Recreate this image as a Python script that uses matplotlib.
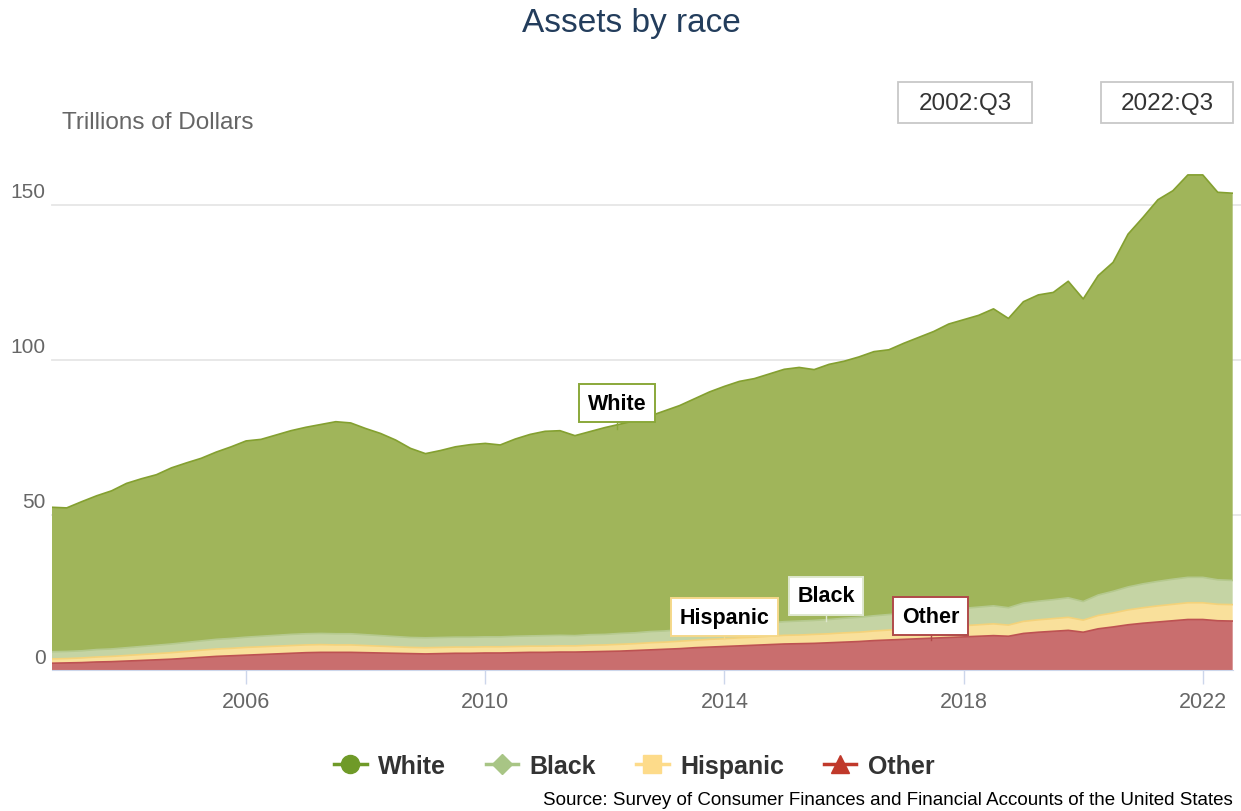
import numpy as np
import pandas as pd
import matplotlib
matplotlib.use('Agg')
import matplotlib.pyplot as plt
from matplotlib.lines import Line2D
from matplotlib.patches import Rectangle

plt.rcParams['font.family'] = ['Liberation Sans', 'DejaVu Sans']

# quarterly points, trillions of dollars
quarters = pd.period_range('2002Q4', '2022Q3', freq='Q')

white = [46.6, 46.3, 48.1, 49.6, 51.0, 53.0, 54.1, 55.0, 56.8, 57.9,
         58.9, 60.4, 61.8, 63.3, 63.5, 64.6, 65.7, 66.6, 67.4, 68.4,
         68.0, 66.5, 65.2, 63.4, 61.0, 59.4, 60.3, 61.4, 62.1, 62.4,
         61.9, 63.6, 65.0, 65.9, 66.0, 64.5, 65.5, 66.7, 67.5, 68.4,
         69.5, 71.0, 72.3, 74.1, 75.9, 77.4, 78.6, 79.2, 80.3, 81.4,
         81.8, 80.9, 82.3, 82.9, 84.0, 85.2, 85.4, 87.1, 88.5, 90.0,
         92.0, 93.1, 94.1, 95.8, 93.3, 97.2, 98.8, 99.1, 102.1, 97.6,
         103.0, 106.1, 113.8, 118.2, 123.1, 125.3, 129.8, 129.8, 125.0, 124.9]

black = [2.3, 2.3, 2.3, 2.4, 2.4, 2.5, 2.6, 2.7, 2.8, 2.9,
         3.0, 3.1, 3.2, 3.3, 3.4, 3.5, 3.6, 3.6, 3.6, 3.6,
         3.6, 3.5, 3.4, 3.3, 3.2, 3.2, 3.2, 3.2, 3.2, 3.2,
         3.2, 3.3, 3.3, 3.4, 3.4, 3.3, 3.4, 3.4, 3.5, 3.5,
         3.6, 3.6, 3.7, 3.8, 3.9, 4.0, 4.1, 4.2, 4.3, 4.4,
         4.5, 4.5, 4.6, 4.7, 4.8, 4.9, 5.0, 5.1, 5.3, 5.4,
         5.5, 5.6, 5.7, 5.8, 5.6, 5.9, 6.0, 6.1, 6.3, 6.0,
         6.6, 7.0, 7.4, 7.7, 7.9, 8.1, 8.2, 8.2, 7.9, 7.8]

hispanic = [1.4, 1.4, 1.5, 1.6, 1.7, 1.8, 1.9, 2.0, 2.1, 2.2,
            2.3, 2.4, 2.4, 2.5, 2.5, 2.5, 2.5, 2.5, 2.5, 2.4,
            2.4, 2.3, 2.2, 2.1, 2.0, 2.0, 2.0, 2.0, 2.0, 2.0,
            2.0, 2.0, 2.0, 2.0, 2.0, 2.0, 2.1, 2.1, 2.2, 2.2,
            2.3, 2.3, 2.4, 2.4, 2.5, 2.5, 2.6, 2.6, 2.7, 2.8,
            2.8, 2.9, 2.9, 3.0, 3.0, 3.1, 3.2, 3.3, 3.4, 3.5,
            3.6, 3.6, 3.7, 3.8, 3.6, 3.9, 4.0, 4.1, 4.2, 3.9,
            4.3, 4.5, 4.8, 5.0, 5.2, 5.3, 5.4, 5.4, 5.3, 5.3]

other = [2.2, 2.3, 2.4, 2.6, 2.7, 2.9, 3.1, 3.3, 3.5, 3.8,
         4.1, 4.4, 4.6, 4.8, 5.0, 5.2, 5.4, 5.6, 5.7, 5.7,
         5.7, 5.6, 5.5, 5.4, 5.3, 5.2, 5.3, 5.4, 5.4, 5.5,
         5.5, 5.6, 5.7, 5.7, 5.8, 5.8, 5.9, 6.0, 6.1, 6.3,
         6.5, 6.7, 6.9, 7.2, 7.4, 7.6, 7.8, 8.0, 8.2, 8.4,
         8.5, 8.6, 8.8, 9.0, 9.2, 9.5, 9.7, 9.9, 10.1, 10.3,
         10.5, 10.7, 10.9, 11.1, 10.9, 11.8, 12.2, 12.5, 12.8, 12.2,
         13.3, 13.9, 14.6, 15.1, 15.5, 15.9, 16.3, 16.3, 15.9, 15.8]

year_ticks = [2006, 2010, 2014, 2018, 2022]
y_ticks = [0, 50, 100, 150]

# stacking order bottom -> top
groups = ['Other', 'Hispanic', 'Black', 'White']
fill_colors = ['#c96e6e', '#f9e09b', '#c5d4a4', '#a0b55a']
line_colors = ['#bd5252', '#f4d27a', '#b5c98e', '#84a030']

x = quarters.year + (quarters.quarter - 1) / 4.0
values = [other, hispanic, black, white]

fig = plt.figure(figsize=(12.41, 8.12), dpi=100)
ax = fig.add_axes([0.0417, 0.1736, 0.9516, 0.63])

ax.stackplot(x, values, colors=fill_colors, linewidth=0, zorder=2)
tops = np.cumsum(np.array(values), axis=0)
for top, c in zip(tops, line_colors):
    ax.plot(x, top, color=c, lw=1.2, zorder=3)

ax.set_xlim(x[0], x[-1])
ax.set_ylim(0, 165)

for v in y_ticks[1:]:
    ax.plot([0.0, 1.01], [v, v], transform=ax.get_yaxis_transform(),
            color='#e6e6e6', lw=1.3, zorder=1, clip_on=False)
for v in y_ticks:
    ax.text(-0.005, v + 4.2, str(v), transform=ax.get_yaxis_transform(),
            ha='right', va='center', fontsize=15, color='#666666')
ax.set_yticks([])

ax.set_xticks(year_ticks)
ax.set_xticklabels([str(t) for t in year_ticks])
ax.tick_params(axis='x', length=10, width=1, color='#ccd6eb', pad=5,
               labelsize=15.5, labelcolor='#666666')
for s in ['top', 'left', 'right']:
    ax.spines[s].set_visible(False)
ax.spines['bottom'].set_color('#ccd6eb')
ax.spines['bottom'].set_zorder(4)

# series labels on the chart
labels = [('White', 2012.2, 77.7, 86.1, '#8aa83a'),
          ('Hispanic', 2014.0, 10.0, 17.1, '#f5d88a'),
          ('Black', 2015.7, 15.8, 23.9, '#dfe8cf'),
          ('Other', 2017.45, 9.7, 17.4, '#b04a4a')]
for name, lx, py, ty, ec in labels:
    ax.plot([lx, lx], [py, ty], color=ec, lw=1, zorder=5)
    ax.text(lx, ty, name, ha='center', va='center', fontsize=15.5,
            fontweight='bold', color='black', zorder=6,
            bbox=dict(boxstyle='square,pad=0.4', fc='white', ec=ec, lw=1.4))

fig.text(0.509, 0.971, 'Assets by race', ha='center', va='center',
         fontsize=24, color='#233d5c')
fig.text(0.05, 0.848, 'Trillions of Dollars', ha='left', va='center',
         fontsize=17.5, color='#666666')

# range selector boxes
for label, x0, x1 in [('2002:Q3', 898, 1032), ('2022:Q3', 1101, 1233)]:
    fig.patches.append(Rectangle((x0 / 1241, 1 - 124 / 812), (x1 - x0) / 1241, 41 / 812,
                                 transform=fig.transFigure, fc='white', ec='#c8c8c8', lw=1.3))
    fig.text((x0 + x1) / 2 / 1241, 1 - 104 / 812, label, ha='center', va='center',
             fontsize=17.5, color='#333333')

markers = ['^', 's', 'D', 'o']
legend_colors = ['#c0392b', '#fddb8a', '#a8c585', '#6f9a28']
handles = []
for name, m, c in zip(groups, markers, legend_colors):
    handles.append(Line2D([0], [0], color=c, marker=m, markersize=13 if m != 'D' else 10,
                          lw=2.5, label=name))
handles = handles[::-1]
fig.legend(handles=handles, loc='center', bbox_to_anchor=(0.511, 0.0554), ncol=4,
           frameon=False, prop={'weight': 'bold', 'size': 18}, handlelength=1.3,
           columnspacing=1.6, handletextpad=0.45, labelcolor='#333333')

fig.text(0.9935, 0.014, 'Source: Survey of Consumer Finances and Financial Accounts of the United States',
         ha='right', va='center', fontsize=13.5, color='black')

fig.savefig('out.png', dpi=100)
plt.close()
